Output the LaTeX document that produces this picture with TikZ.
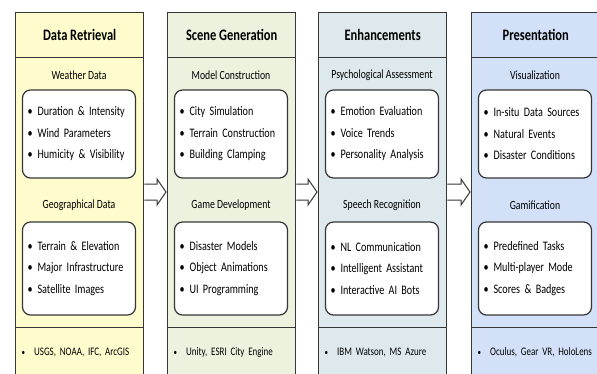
\documentclass[tikz,border=0pt]{standalone}
\usepackage{fontspec}
\setmainfont{Carlito}[FakeStretch=0.78]
\usetikzlibrary{calc}

\definecolor{retrievalbg}{HTML}{FEFCCC}
\definecolor{scenebg}{HTML}{EDF2DF}
\definecolor{enhancebg}{HTML}{DEE9EE}
\definecolor{presentbg}{HTML}{D2E1F7}
\definecolor{frameline}{HTML}{363636}

% one bullet line in a list box
\newcommand{\itm}[1]{\textbullet\hspace{5pt}#1}
% the tools line at the bottom of a stage
\newcommand{\tl}[1]{\hspace*{5pt}{\fontsize{9}{9}\selectfont\textbullet}\hspace{9pt}#1}
% hollow arrow from one stage to the next
\newcommand{\stagearrow}[2]{%
  \filldraw[flow] (#1.east |- 0,184) -- ($(#2.west |- 0,184)+(-10,0)$) -- ++(0,-5)
    -- ($(#2.west |- 0,192)+(-1,0)$) -- ($(#2.west |- 0,200)+(-10,5)$) -- ++(0,-5)
    -- (#1.east |- 0,200);}

\tikzset{
  stage/.style={draw=frameline, line width=1.4pt, minimum width=128pt, minimum height=400pt, anchor=north west, inner sep=0pt},
  stagetitle/.style={draw=frameline, line width=1.4pt, minimum width=128pt, minimum height=45pt, anchor=north, font=\fontsize{16}{18}\selectfont\bfseries},
  subhead/.style={font=\fontsize{12.5}{14}\selectfont},
  itemlist/.style={draw=frameline, line width=1.2pt, fill=white, rounded corners=8pt, minimum width=113pt, text width=103pt, align=left, inner sep=5pt, font=\fontsize{13}{21.5}\selectfont},
  tools/.style={draw=frameline, line width=1.4pt, minimum width=128pt, minimum height=50pt, text width=126pt, align=left, inner sep=1pt, anchor=north west, font=\fontsize{11.5}{14}\selectfont},
  flow/.style={draw=frameline, line width=1pt, fill=white, line join=miter}
}

\begin{document}
\begin{tikzpicture}[x=1pt, y=-1pt]
\useasboundingbox (0,0) rectangle (597,373);
\clip (0,0) rectangle (597,373);

% stages
\node[stage, fill=retrievalbg] (c1) at (15,12) {};
\node[stage, fill=scenebg] (c2) at (167,12) {};
\node[stage, fill=enhancebg] (c3) at (318,12) {};
\node[stage, fill=presentbg] (c4) at (471,12) {};

\node[stagetitle] (t1) at (c1.north) {Data Retrieval};
\node[stagetitle] (t2) at (c2.north) {Scene Generation};
\node[stagetitle] (t3) at (c3.north) {Enhancements};
\node[stagetitle] (t4) at (c4.north) {Presentation};

% data retrieval
\node[subhead] (s11) at (79,75) {Weather Data};
\node[itemlist, minimum height=88pt] (l11) at (79,134) {\itm{Duration \& Intensity}\\ \itm{Wind Parameters}\\ \itm{Humicity \& Visibility}};
\node[subhead] (s12) at (79,205) {Geographical Data};
\node[itemlist, minimum height=93pt] (l12) at (79,268.5) {\itm{Terrain \& Elevation}\\ \itm{Major Infrastructure}\\ \itm{Satellite Images}};
\node[tools, fill=retrievalbg] (f1) at (c1.west |- 0,327) {\tl{USGS, NOAA, IFC, ArcGIS}};

% scene generation
\node[subhead] (s21) at (231,75) {Model Construction};
\node[itemlist, minimum height=88pt] (l21) at (231,134) {\itm{City Simulation}\\ \itm{Terrain Construction}\\ \itm{Building Clamping}};
\node[subhead] (s22) at (231,205) {Game Development};
\node[itemlist, minimum height=93pt] (l22) at (231,268.5) {\itm{Disaster Models}\\ \itm{Object Animations}\\ \itm{UI Programming}};
\node[tools, fill=scenebg] (f2) at (c2.west |- 0,327) {\tl{Unity, ESRI City Engine}};

% enhancements
\node[subhead] (s31) at (382,75) {Psychological Assessment};
\node[itemlist, minimum height=88pt] (l31) at (382,134) {\itm{Emotion Evaluation}\\ \itm{Voice Trends}\\ \itm{Personality Analysis}};
\node[subhead] (s32) at (382,205) {Speech Recognition};
\node[itemlist, minimum height=93pt] (l32) at (382,268.5) {\itm{NL Communication}\\ \itm{Intelligent Assistant}\\ \itm{Interactive AI Bots}};
\node[tools, fill=enhancebg] (f3) at (c3.west |- 0,327) {\tl{IBM Watson, MS Azure}};

% presentation
\node[subhead] (s41) at (535,75) {Visualization};
\node[itemlist, minimum height=88pt] (l41) at (535,134) {\itm{In-situ Data Sources}\\ \itm{Natural Events}\\ \itm{Disaster Conditions}};
\node[subhead] (s42) at (535,205) {Gamification};
\node[itemlist, minimum height=93pt] (l42) at (535,268.5) {\itm{Predefined Tasks}\\ \itm{Multi-player Mode}\\ \itm{Scores \& Badges}};
\node[tools, fill=presentbg] (f4) at (c4.west |- 0,327) {\tl{Oculus, Gear VR, HoloLens}};

% flow between stages
\stagearrow{c1}{c2}
\stagearrow{c2}{c3}
\stagearrow{c3}{c4}
\end{tikzpicture}
\end{document}
